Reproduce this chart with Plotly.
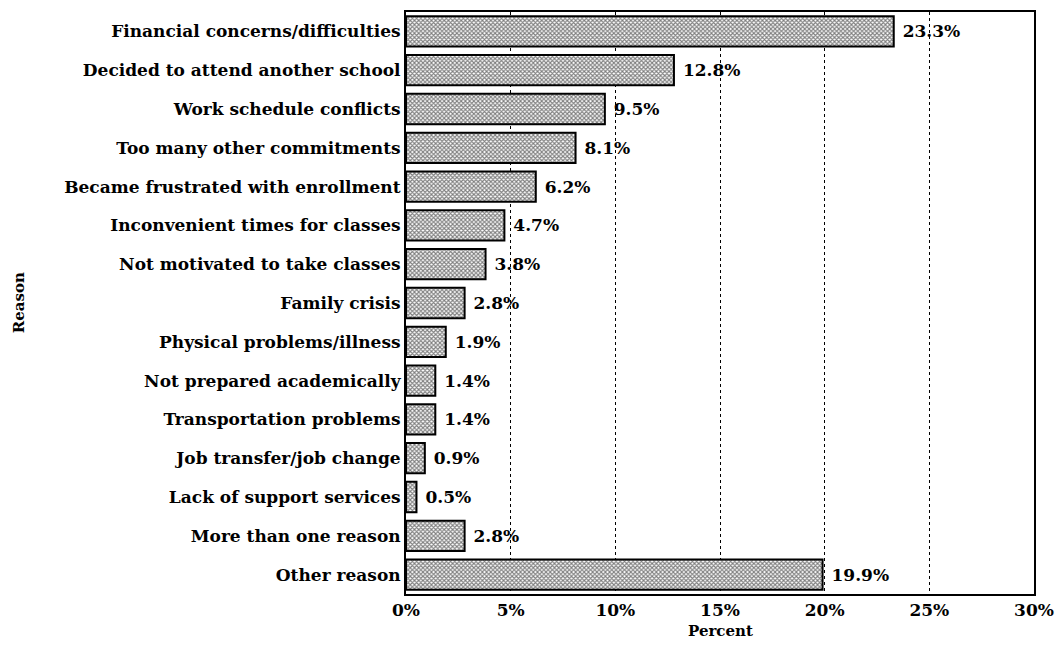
import plotly.graph_objs as go

reasons = [
    "Financial concerns/difficulties",
    "Decided to attend another school",
    "Work schedule conflicts",
    "Too many other commitments",
    "Became frustrated with enrollment",
    "Inconvenient times for classes",
    "Not motivated to take classes",
    "Family crisis",
    "Physical problems/illness",
    "Not prepared academically",
    "Transportation problems",
    "Job transfer/job change",
    "Lack of support services",
    "More than one reason",
    "Other reason",
]
percents = [23.3, 12.8, 9.5, 8.1, 6.2, 4.7, 3.8, 2.8, 1.9, 1.4, 1.4, 0.9, 0.5, 2.8, 19.9]
tick_vals = [0, 5, 10, 15, 20, 25, 30]
tick_text = ["0%", "5%", "10%", "15%", "20%", "25%", "30%"]

font_family = "DejaVu Serif, Liberation Serif, serif"
label_font = dict(family=font_family, size=17, color="black", weight="bold")

fig = go.Figure()
fig.add_trace(go.Bar(
    x=percents,
    y=reasons,
    orientation="h",
    # small gap between bar end and the value, like the original
    text=[f"\u00a0{v:.1f}%" for v in percents],
    textposition="outside",
    cliponaxis=False,
    textfont=label_font,
    marker=dict(
        color="white",
        line=dict(color="black", width=2),
        pattern=dict(shape="x", fgcolor="black", bgcolor="white", size=3, solidity=0.6),
    ),
))

# axis titles placed by hand, as in the original figure
fig.add_annotation(
    text="Reason", textangle=-90, xref="paper", yref="paper",
    x=-0.616, y=0.5, xanchor="center", yanchor="middle", showarrow=False,
    font=dict(family=font_family, size=15, color="black", weight="bold"),
)
fig.add_annotation(
    text="Percent", xref="paper", yref="paper",
    x=0.5, y=-0.064, xanchor="center", yanchor="middle", showarrow=False,
    font=dict(family=font_family, size=15, color="black", weight="bold"),
)

fig.update_layout(
    width=1048,
    height=634,
    paper_bgcolor="white",
    plot_bgcolor="white",
    bargap=0.22,
    showlegend=False,
    font=dict(family=font_family, size=17, color="black"),
    margin=dict(l=398, r=20, t=2, b=48),
    xaxis=dict(
        range=[0, 30],
        tickvals=tick_vals,
        ticktext=tick_text,
        showgrid=True,
        gridcolor="black",
        griddash="dot",
        gridwidth=1,
        zeroline=False,
        showline=True,
        linecolor="black",
        linewidth=2,
        mirror=True,
        ticks="",
        tickfont=label_font,
    ),
    yaxis=dict(
        autorange="reversed",
        showline=True,
        linecolor="black",
        linewidth=2,
        mirror=True,
        showgrid=False,
        ticks="",
        tickfont=label_font,
    ),
)

fig.write_html("out.html")
